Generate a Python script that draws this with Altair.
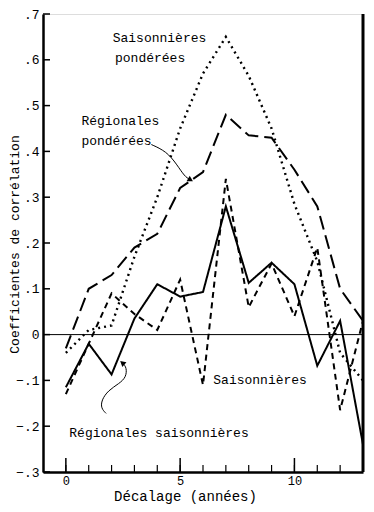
import altair as alt
import pandas as pd

# ---- data ----
lag = list(range(14))
sais_pond = [-0.04, 0.01, 0.02, 0.17, 0.30, 0.45, 0.57, 0.65, 0.565, 0.45, 0.285, 0.16, -0.04, -0.10]
reg_pond = [-0.03, 0.10, 0.13, 0.19, 0.22, 0.32, 0.355, 0.48, 0.435, 0.43, 0.36, 0.28, 0.10, 0.03]
sais = [-0.13, -0.02, 0.09, 0.045, 0.01, 0.12, -0.11, 0.34, 0.06, 0.155, 0.04, 0.19, -0.165, 0.03]
reg_sais = [-0.115, -0.02, -0.087, 0.035, 0.11, 0.083, 0.093, 0.28, 0.113, 0.157, 0.11, -0.068, 0.03, -0.24]

series_names = ["Saisonnières pondérées", "Régionales pondérées", "Saisonnières", "Régionales saisonnières"]
series_vals = [sais_pond, reg_pond, sais, reg_sais]
series_dash = [[2, 4], [14, 6], [6, 4.5], [1, 0]]
series_width = [2.4, 2, 2, 2]

y_ticks = [-0.3, -0.2, -0.1, 0.0, 0.1, 0.2, 0.3, 0.4, 0.5, 0.6, 0.7]
x_minor = list(range(0, 13))
x_major = [0, 5, 10]

ann_text = ["Saisonnières", "pondérées", "Régionales", "pondérées", "Saisonnières", "Régionales saisonnières"]
ann_x = [2.05, 2.15, 0.68, 0.68, 6.45, 0.15]
ann_y = [0.638, 0.595, 0.458, 0.414, -0.107, -0.224]

arrow1_x = [3.74, 4.4, 4.85, 5.2, 5.42]
arrow1_y = [0.415, 0.40, 0.372, 0.345, 0.339]
arrow2_x = [1.76, 1.54, 1.56, 1.85, 2.33, 2.64, 2.66, 2.5]
arrow2_y = [-0.172, -0.161, -0.143, -0.122, -0.107, -0.093, -0.072, -0.063]

FONT = "Liberation Mono"
XS = alt.Scale(domain=[-1, 13], nice=False, zero=False)
YS = alt.Scale(domain=[-0.3, 0.7], nice=False, zero=False)
H = 458

layers = []

# zero line
zero_df = pd.DataFrame({"y": [0.0]})
layers.append(alt.Chart(zero_df).mark_rule(color="black", strokeWidth=1).encode(
    y=alt.Y("y:Q", scale=YS), x=alt.value(0), x2=alt.value(320)))

# axis-style ticks drawn inside the frame
yt_df = pd.DataFrame({"y": y_ticks})
layers.append(alt.Chart(yt_df).mark_rule(color="black", strokeWidth=1.5).encode(
    y=alt.Y("y:Q", scale=YS), x=alt.value(0), x2=alt.value(7)))
xt_df = pd.DataFrame({"x": x_minor})
layers.append(alt.Chart(xt_df).mark_rule(color="black", strokeWidth=1.2).encode(
    x=alt.X("x:Q", scale=XS), y=alt.value(H), y2=alt.value(H - 7)))
xm_df = pd.DataFrame({"x": x_major})
layers.append(alt.Chart(xm_df).mark_rule(color="black", strokeWidth=1.5).encode(
    x=alt.X("x:Q", scale=XS), y=alt.value(H), y2=alt.value(H - 14)))

# right border
layers.append(alt.Chart(pd.DataFrame({"x": [13]})).mark_rule(color="black", strokeWidth=3).encode(
    x=alt.X("x:Q", scale=XS), y=alt.value(0), y2=alt.value(H)))

# series
for name, vals, dash, w in zip(series_names, series_vals, series_dash, series_width):
    df = pd.DataFrame({"lag": lag, "r": vals, "s": name})
    layers.append(alt.Chart(df).mark_line(color="black", strokeWidth=w, strokeDash=dash,
                                          strokeCap="butt").encode(
        x=alt.X("lag:Q", scale=XS,
                axis=alt.Axis(values=x_major, ticks=False, grid=False, domainWidth=2.5,
                              domainColor="black", labelFont=FONT, labelFontSize=12,
                              labelColor="black", labelPadding=3, title="Décalage (années)",
                              titleFont=FONT, titleFontSize=14, titleFontWeight="normal",
                              titleColor="black", titleX=142, titleY=28,
                              titleBaseline="alphabetic", titleAlign="center")),
        y=alt.Y("r:Q", scale=YS,
                axis=alt.Axis(values=y_ticks, ticks=False, grid=False, domainWidth=2.5,
                              domainColor="black", labelFont=FONT, labelFontSize=13,
                              labelColor="black", labelPadding=4,
                              labelExpr="datum.value == 0 ? '0' : replace(format(datum.value, '.1f'), '0.', '.')",
                              title="Coefficientes de corrélation", titleFont=FONT,
                              titleFontSize=13, titleFontWeight="normal", titleColor="black",
                              titleX=-29, titleY=230, titleAngle=-90, titleAlign="center",
                              titleBaseline="middle")),
        order="lag:Q"))

# annotations
ann_df = pd.DataFrame({"t": ann_text, "x": ann_x, "y": ann_y})
layers.append(alt.Chart(ann_df).mark_text(font=FONT, fontSize=13, align="left",
                                          baseline="alphabetic", color="black").encode(
    x=alt.X("x:Q", scale=XS), y=alt.Y("y:Q", scale=YS), text="t:N"))

a1 = pd.DataFrame({"x": arrow1_x, "y": arrow1_y, "i": range(len(arrow1_x))})
a2 = pd.DataFrame({"x": arrow2_x, "y": arrow2_y, "i": range(len(arrow2_x))})
for adf, ang in [(a1, 120), (a2, 310)]:
    layers.append(alt.Chart(adf).mark_line(color="black", strokeWidth=1, interpolate="basis").encode(
        x=alt.X("x:Q", scale=XS), y=alt.Y("y:Q", scale=YS), order="i:Q"))
    head = adf.tail(1)
    layers.append(alt.Chart(head).mark_point(shape="triangle", filled=True, color="black",
                                             size=40, angle=ang, opacity=1).encode(
        x=alt.X("x:Q", scale=XS), y=alt.Y("y:Q", scale=YS)))

chart = alt.layer(*layers).properties(
    width=320, height=H,
    autosize=alt.AutoSizeParams(type="none"),
    padding={"left": 35, "top": 6, "right": 3, "bottom": 32},
).configure_view(stroke="black", strokeWidth=1).configure(background="white")

chart.save("out.html", embed_options={"renderer": "svg", "actions": False})
